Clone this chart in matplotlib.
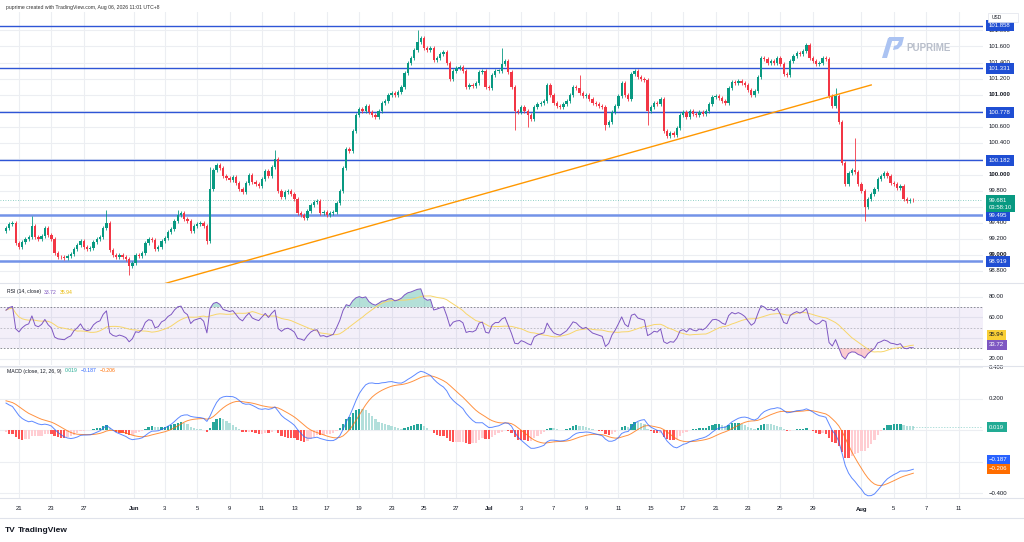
import numpy as np
import pandas as pd
import matplotlib.pyplot as plt
from matplotlib.transforms import blended_transform_factory
from matplotlib.patches import Polygon, Rectangle
from matplotlib.lines import Line2D

plt.rcParams['font.family'] = ['Liberation Sans', 'DejaVu Sans']

# ---- data (4H bars, 5 per trading day) ----
closes = [
    99.33, 99.38, 99.40, 99.15, 99.10, 99.16, 99.20, 99.22, 99.36, 99.22,
    99.20, 99.24, 99.33, 99.25, 99.20, 99.02, 98.98, 98.97, 98.96, 98.99,
    99.01, 99.08, 99.12, 99.18, 99.10, 99.08, 99.09, 99.16, 99.20, 99.22,
    99.33, 99.40, 99.06, 99.00, 98.98, 99.00, 98.98, 98.95, 98.86, 98.90,
    99.00, 98.99, 99.03, 99.15, 99.20, 99.19, 99.08, 99.10, 99.18, 99.21,
    99.28, 99.32, 99.42, 99.50, 99.52, 99.45, 99.42, 99.30, 99.36, 99.38,
    99.40, 99.36, 99.18, 99.82, 100.06, 100.12, 100.08, 99.98, 99.96, 99.94,
    99.97, 99.90, 99.82, 99.78, 99.90, 100.00, 99.91, 99.88, 99.86, 99.95,
    100.05, 99.98, 100.10, 100.20, 99.80, 99.72, 99.78, 99.80, 99.76, 99.70,
    99.52, 99.50, 99.46, 99.55, 99.62, 99.66, 99.67, 99.52, 99.53, 99.50,
    99.52, 99.54, 99.65, 99.80, 100.08, 100.32, 100.30, 100.55, 100.74, 100.82,
    100.80, 100.86, 100.78, 100.74, 100.72, 100.80, 100.90, 100.92, 101.00, 101.02,
    100.99, 101.03, 101.10, 101.27, 101.40, 101.46, 101.56, 101.66, 101.70, 101.58,
    101.55, 101.58, 101.43, 101.46, 101.50, 101.53, 101.40, 101.20, 101.30, 101.33,
    101.34, 101.30, 101.10, 101.12, 101.11, 101.14, 101.28, 101.30, 101.10, 101.08,
    101.24, 101.30, 101.30, 101.38, 101.42, 101.28, 101.10, 100.80, 100.78, 100.84,
    100.80, 100.74, 100.70, 100.84, 100.88, 100.90, 100.92, 101.12, 101.00, 100.90,
    100.86, 100.84, 100.88, 100.92, 101.00, 101.10, 101.08, 101.02, 100.98, 101.00,
    100.95, 100.90, 100.88, 100.86, 100.84, 100.62, 100.66, 100.78, 100.86, 100.98,
    101.14, 101.00, 100.95, 101.26, 101.30, 101.22, 101.20, 101.18, 100.80, 100.84,
    100.90, 100.88, 100.95, 100.55, 100.48, 100.52, 100.50, 100.58, 100.75, 100.78,
    100.72, 100.80, 100.76, 100.74, 100.78, 100.76, 100.80, 100.88, 100.97, 100.98,
    100.96, 100.92, 100.90, 101.08, 101.16, 101.14, 101.17, 101.15, 101.12, 101.06,
    101.00, 101.04, 101.22, 101.46, 101.44, 101.40, 101.42, 101.40, 101.46, 101.38,
    101.26, 101.24, 101.42, 101.48, 101.52, 101.50, 101.54, 101.62, 101.46, 101.42,
    101.38, 101.40, 101.46, 101.44, 100.98, 100.86, 100.98, 100.66, 100.15, 99.88,
    100.02, 100.06, 100.04, 99.88, 99.80, 99.60, 99.70, 99.76, 99.82, 99.95,
    99.98, 100.02, 99.98, 99.90, 99.88, 99.84, 99.86, 99.70, 99.67, 99.69,
    99.681,
]
first_open = 99.30
# bars with long wicks: bar index -> extreme price
wick_highs = {8: 99.48, 31: 99.56, 53: 99.56, 63: 100.10, 83: 100.31, 127: 101.80,
              153: 101.58, 177: 101.25, 247: 101.64, 256: 101.08, 262: 100.46}
wick_lows = {38: 98.75, 62: 99.14, 157: 100.56, 161: 100.60, 185: 100.56,
             198: 100.62, 265: 99.42}
base_wick = 0.025

levels = [101.858, 101.331, 100.778, 100.182, 99.495, 98.919]
trend_x = [47.0, 267.0]
trend_y = [98.62, 101.12]

last_price = 99.681
countdown = '03:58:10'
rsi_last, rsi_ma_last = 33.72, 35.94
hist_last, macd_last, signal_last = 0.019, -0.187, -0.206

tick_days = [0, 2, 4, 7.1, 9, 11, 13, 15, 17, 19, 21, 23, 25, 27, 29, 31, 33, 35, 37,
             39, 41, 43, 45, 47, 49, 52, 54, 56, 58]
tick_labels = ['21', '23', '27', 'Jun', '3', '5', '9', '11', '13', '17', '19', '23', '25',
               '27', 'Jul', '3', '7', '9', '11', '15', '17', '21', '23', '25', '29', 'Aug',
               '5', '7', '11']
bars_per_day = 5
first_bar_day = -0.8

price_ticks = [98.8, 99.0, 99.2, 99.4, 99.6, 99.8, 100.0, 100.2, 100.4, 100.6, 100.8,
               101.0, 101.2, 101.4, 101.6, 101.8]
# labels that the level boxes do not hide
price_tick_labels = [98.8, 99.0, 99.2, 99.4, 99.8, 100.0, 100.4, 100.6,
                     101.0, 101.2, 101.4, 101.6, 101.8]
rsi_ticks = [20, 40, 60, 80]
rsi_tick_labels = [20, 60, 80]
macd_ticks = [-0.4, -0.2, 0.0, 0.2, 0.4]
macd_tick_labels = [-0.4, 0.2, 0.4]

GREEN = '#089981'
RED = '#F23645'
BLUE = '#2E55D6'
GRID = '#ECEEF2'
TXT = '#131722'

# ---- indicators from the closes ----
c = np.array(closes)
o = np.r_[first_open, c[:-1]]
n = len(c)
idx = np.arange(n)

diff = c - o
gain = np.clip(diff, 0, None)
loss = np.clip(-diff, 0, None)
ag, al = 0.030, 0.016
rsi = []
for g, l in zip(gain, loss):
    ag = (ag * 13 + g) / 14
    al = (al * 13 + l) / 14
    rsi.append(100 - 100 / (1 + ag / al))
rsi = np.array(rsi)
rsi_ma = pd.Series(rsi).rolling(14, min_periods=1).mean().values


def ema(vals, length, seed):
    a = 2 / (length + 1)
    out = []
    prev = seed
    for v in vals:
        prev = prev + a * (v - prev)
        out.append(prev)
    return np.array(out)


ema12 = ema(c, 12, c[0] + 0.05)
ema26 = ema(c, 26, c[0] - 0.14)
macd = ema12 - ema26
signal = ema(macd, 9, 0.19)
hist = macd - signal

# ---- layout ----
W, H = 1024, 542
fig = plt.figure(figsize=(W / 100, H / 100), dpi=100)
fig.patch.set_facecolor('white')


def rect(top, bottom):
    return [0, 1 - bottom / H, 983 / W, (bottom - top) / H]


ax = fig.add_axes(rect(12, 283))
ax_rsi = fig.add_axes(rect(283, 365))
ax_macd = fig.add_axes(rect(366, 498))

xmin, xmax = -1.85, 301.5
tick_pos = [(d - first_bar_day) * bars_per_day for d in tick_days]

for a, yt, yl in [(ax, price_ticks, (98.65, 102.03)),
                  (ax_rsi, rsi_ticks, (13.8, 93.2)),
                  (ax_macd, macd_ticks, (-0.43, 0.407))]:
    a.set_xlim(xmin, xmax)
    a.set_ylim(*yl)
    a.set_yticks(yt)
    a.set_xticks(tick_pos)
    a.grid(True, color=GRID, lw=0.8)
    a.set_axisbelow(True)
    a.tick_params(left=False, bottom=False, labelleft=False, labelbottom=False)
    for s in a.spines.values():
        s.set_visible(False)

lab_x = 989 / 983
box_kw = dict(ha='left', va='center', fontsize=4.3, clip_on=False, zorder=6)

# ---- main pane ----
hi = np.maximum(o, c) + base_wick
lo = np.minimum(o, c) - base_wick
for k, v in wick_highs.items():
    hi[k] = v
for k, v in wick_lows.items():
    lo[k] = v
col = np.where(c >= o, GREEN, RED)
ax.vlines(idx, lo, hi, colors=col, lw=0.6, zorder=3)
ax.bar(idx, np.maximum(np.abs(c - o), 0.008), bottom=np.minimum(o, c), width=0.72,
       color=col, lw=0, zorder=3)

for i, lv in enumerate(levels):
    if i >= 4:
        ax.axhline(lv, color='#7393E8', lw=1.8, zorder=2)
    else:
        ax.axhline(lv, color=BLUE, lw=1.0, zorder=2)
ax.plot(trend_x, trend_y, color='#FF9800', lw=1.0, zorder=4)
ax.axhline(last_price, color=GREEN, lw=0.6, ls=(0, (1, 2)), alpha=0.6, zorder=2)

tr = blended_transform_factory(ax.transAxes, ax.transData)
for p in price_tick_labels:
    ax.text(lab_x, p, f'{p:.3f}', transform=tr, ha='left', va='center', fontsize=4.3,
            color=TXT, fontweight='bold' if abs(p - round(p)) < 1e-6 else 'normal',
            clip_on=False, zorder=3)
for lv in levels:
    ax.text(lab_x, lv, f'{lv:.3f}', transform=tr, color='white',
            bbox=dict(boxstyle='square,pad=0.5', fc='#1F4ED3', ec='none'), **box_kw)
ax.text(lab_x, last_price - 0.04, f'{last_price:.3f}\n{countdown}', transform=tr,
        color='white', linespacing=1.5,
        bbox=dict(boxstyle='square,pad=0.45', fc=GREEN, ec='none'), **box_kw)

# ---- RSI pane ----
ax_rsi.axhspan(30, 70, color='#7E57C2', alpha=0.09, lw=0)
for lv, al_ in [(70, 1.0), (50, 0.5), (30, 1.0)]:
    ax_rsi.axhline(lv, color='#787B86', lw=0.6, ls=(0, (2, 2)), alpha=al_)
ax_rsi.fill_between(idx, 70, rsi, where=rsi > 70, interpolate=True, color=GREEN,
                    alpha=0.3, lw=0)
ax_rsi.fill_between(idx, 30, rsi, where=rsi < 30, interpolate=True, color=RED,
                    alpha=0.25, lw=0)
ax_rsi.plot(idx, rsi_ma, color='#F8D66A', lw=0.7)
ax_rsi.plot(idx, rsi, color='#7E57C2', lw=0.7)

tr_r = blended_transform_factory(ax_rsi.transAxes, ax_rsi.transData)
for v in rsi_tick_labels:
    ax_rsi.text(lab_x, v, f'{v:.2f}', transform=tr_r, ha='left', va='center',
                fontsize=4.3, color=TXT, clip_on=False)
ax_rsi.text(lab_x, rsi_ma_last + 7.0, f'{rsi_ma_last:.2f}', transform=tr_r, color=TXT,
            bbox=dict(boxstyle='square,pad=0.4', fc='#F9CF36', ec='none'), **box_kw)
ax_rsi.text(lab_x, rsi_last - 0.5, f'{rsi_last:.2f}', transform=tr_r, color='white',
            bbox=dict(boxstyle='square,pad=0.4', fc='#7E57C2', ec='none'), **box_kw)

# ---- MACD pane ----
hcol = []
for k in range(n):
    prev = hist[k - 1] if k > 0 else hist[k]
    if hist[k] >= 0:
        hcol.append('#26A69A' if hist[k] > prev else '#B2DFDB')
    else:
        hcol.append('#FF5252' if hist[k] < prev else '#FFCDD2')
ax_macd.bar(idx, hist, width=0.72, color=hcol, lw=0)
ax_macd.plot(idx, signal, color='#FF6D00', lw=0.7, alpha=0.75)
ax_macd.plot(idx, macd, color='#2962FF', lw=0.7, alpha=0.75)
ax_macd.plot([n - 1, xmax], [hist_last, hist_last], color='#26A69A', lw=0.5,
             ls=(0, (2, 2)), alpha=0.5)


def signed(v):
    s = f'{abs(v):.3f}'
    return '\u2212' + s if v < 0 else s


tr_m = blended_transform_factory(ax_macd.transAxes, ax_macd.transData)
for v in macd_tick_labels:
    ax_macd.text(lab_x, v, signed(v), transform=tr_m, ha='left', va='center',
                 fontsize=4.3, color=TXT, clip_on=False)
ax_macd.text(lab_x, hist_last, signed(hist_last), transform=tr_m, color='white',
             bbox=dict(boxstyle='square,pad=0.4', fc='#22AB94', ec='none'), **box_kw)
ax_macd.text(lab_x, macd_last, signed(macd_last), transform=tr_m, color='white',
             bbox=dict(boxstyle='square,pad=0.4', fc='#2962FF', ec='none'), **box_kw)
ax_macd.text(lab_x, signal_last - 0.040, signed(signal_last), transform=tr_m,
             color='white', bbox=dict(boxstyle='square,pad=0.4', fc='#FF6D00', ec='none'),
             **box_kw)

# time axis labels
tr_t = blended_transform_factory(ax_macd.transData, ax_macd.transAxes)
for p, lab in zip(tick_pos, tick_labels):
    ax_macd.text(p, -11 / 132, lab, transform=tr_t, ha='center', va='center',
                 fontsize=4.2, color=TXT, clip_on=False,
                 fontweight='bold' if lab.isalpha() else 'normal')

# ---- pane titles, header, branding ----
renderer = fig.canvas.get_renderer()


def ftext(x, y, s, **kw):
    return fig.text(x / W, 1 - y / H, s, va='center', ha='left', **kw)


def text_row(x, y, pieces, size=3.7, gap=3):
    # lay out coloured pieces one after another, like a legend line
    for s, color in pieces:
        t = ftext(x, y, s, fontsize=size, color=color)
        x += t.get_window_extent(renderer).width + gap


ftext(6, 8, 'puprime created with TradingView.com, Aug 06, 2026 11:01 UTC+8',
      fontsize=3.7, color='#333333')
text_row(7, 292, [('RSI (14, close)', TXT), (f'{rsi_last:.2f}', '#7E57C2'),
                  (f'{rsi_ma_last:.2f}', '#E8B800')])
text_row(7, 371, [('MACD (close, 12, 26, 9)', TXT), (signed(hist_last), '#22AB94'),
                  (signed(macd_last), '#2962FF'), (signed(signal_last), '#FF6D00')])

# USD box
fig.patches.append(Rectangle((988 / W, 1 - 22 / H), 30 / W, 9 / H, transform=fig.transFigure,
                             fc='white', ec='#E0E3EB', lw=0.5))
ftext(992, 17.5, 'USD', fontsize=3.5, color=TXT)


# PUPRIME watermark
def fpoly(pts, color):
    xy = [(x / W, 1 - y / H) for x, y in pts]
    fig.patches.append(Polygon(xy, closed=True, transform=fig.transFigure, fc=color,
                               ec='none', zorder=5))


fpoly([(882, 58), (887, 58), (893, 38), (888, 38)], '#ABC3F2')
fpoly([(889, 37), (904, 37), (902, 45), (898, 49), (893, 50), (894, 46), (897, 45),
       (899, 41), (888, 41)], '#ABC3F2')
ftext(906, 48, 'PUPRIME', fontsize=7, color='#B9BFCB', fontweight='bold')

# TradingView logo
ftext(5, 530, 'TV', fontsize=6, color=TXT, fontweight='heavy')
ftext(18, 530, 'TradingView', fontsize=6, color=TXT, fontweight='bold')

# pane separators
for yy in [283, 365.5, 498, 518]:
    fig.lines.append(Line2D([0, 1], [1 - yy / H, 1 - yy / H], transform=fig.transFigure,
                            color='#E0E3EB', lw=0.8))

fig.savefig('out.png', dpi=100, facecolor='white')
